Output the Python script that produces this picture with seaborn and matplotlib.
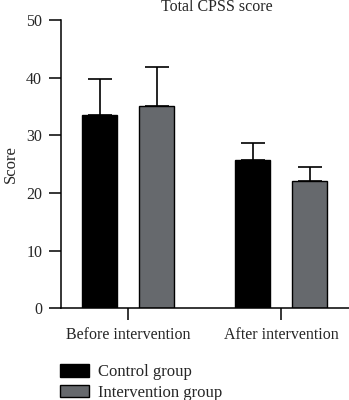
import pandas as pd
import matplotlib.pyplot as plt
import seaborn as sns

# Values
phases = ["Before intervention", "After intervention"]
groups = ["Control group", "Intervention group"]
control_mean = [33.6, 25.8]
control_sd = [6.1, 2.9]
intervention_mean = [35.1, 22.1]
intervention_sd = [6.8, 2.4]
colors = ["#000000", "#66696d"]

df = pd.DataFrame({
    "phase": phases * 2,
    "group": [groups[0]] * 2 + [groups[1]] * 2,
    "score": control_mean + intervention_mean,
})
sds = [control_sd, intervention_sd]

sns.set_theme(style="ticks")
plt.rcParams["font.family"] = ["Liberation Serif", "DejaVu Serif"]

fig = plt.figure(figsize=(3.49, 4.0), dpi=100)
ax = fig.add_axes([0.175, 0.229, 0.825, 0.721])

sns.barplot(data=df, x="phase", y="score", hue="group", palette=colors,
            width=0.745, gap=0.385, edgecolor="black", linewidth=1.0,
            errorbar=None, saturation=1, ax=ax)

# one-sided error bars on top of each bar
for cont, sd in zip(ax.containers, sds):
    xs = [p.get_x() + p.get_width() / 2 for p in cont.patches]
    ys = [p.get_height() for p in cont.patches]
    ax.errorbar(xs, ys, yerr=[[0] * len(sd), sd], fmt="none", ecolor="black",
                elinewidth=1.2, capsize=8.3, capthick=1.2)

handles, labels = ax.get_legend_handles_labels()
ax.get_legend().remove()
fig.legend(handles, labels, loc="upper left", bbox_to_anchor=(0.171, 0.09),
           frameon=False, fontsize=12, handlelength=1.75, handleheight=0.8,
           handletextpad=0.55, labelspacing=0.26, borderaxespad=0,
           borderpad=0)

ax.set_xlim(-0.438, 1.444)
ax.set_ylim(0, 50)
ax.set_yticks([0, 10, 20, 30, 40, 50])
ax.set_xlabel("")
ax.set_ylabel("Score", fontsize=12, labelpad=5)
ax.tick_params(axis="both", length=8.6, width=1.1, labelsize=11.5, pad=5,
               color="black")
sns.despine(ax=ax)
for s in ["left", "bottom"]:
    ax.spines[s].set_linewidth(1.1)
    ax.spines[s].set_color("black")

fig.text(0.622, 0.982, "Total CPSS score", ha="center", va="center", fontsize=11.5)

fig.savefig("out.png", dpi=100)
